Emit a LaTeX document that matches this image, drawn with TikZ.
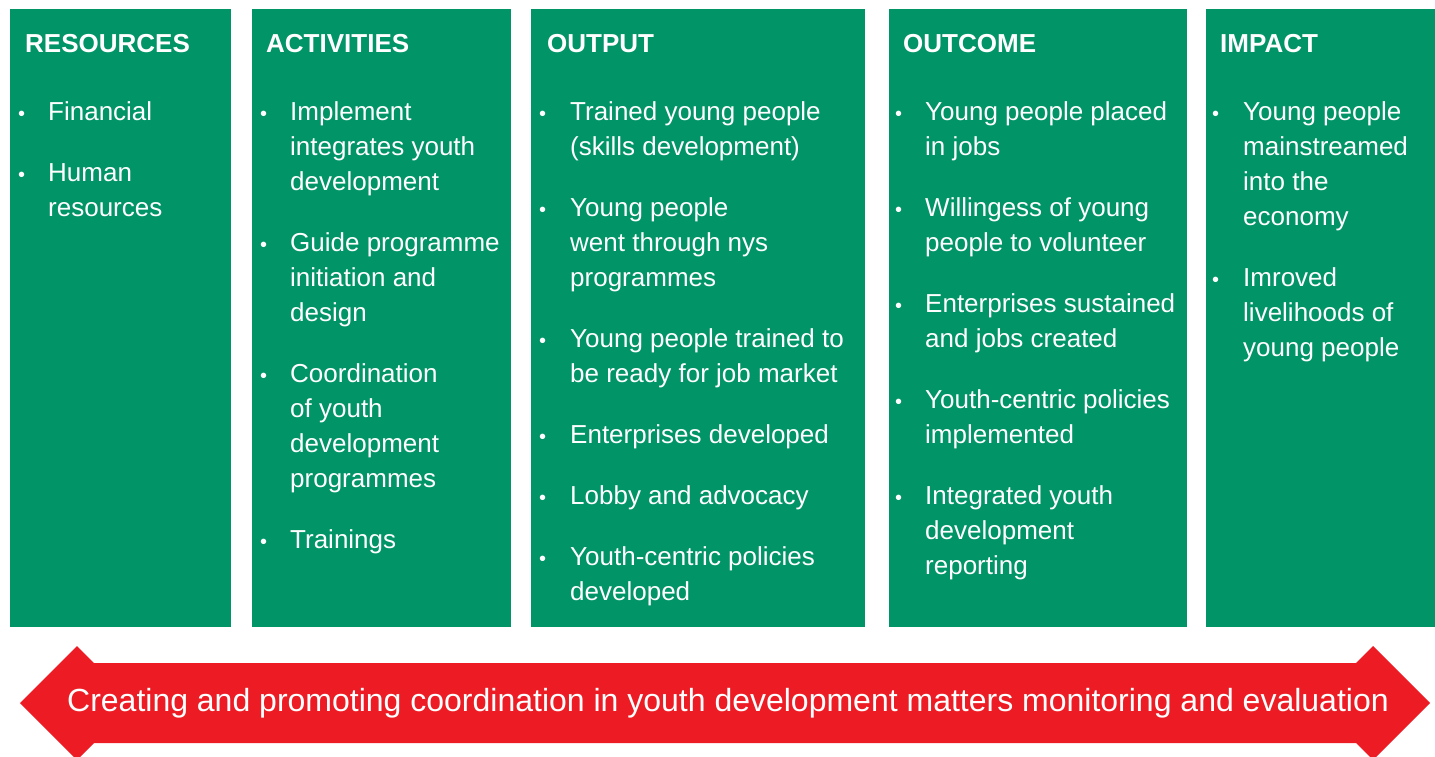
\documentclass[tikz,border=0pt]{standalone}
\usepackage{fontspec}
\setmainfont{Liberation Sans}
\definecolor{tocgreen}{RGB}{0,148,103}
\definecolor{tocred}{RGB}{237,28,36}
\newcommand{\bitem}[5]{%
  \node[bul] (#1b) at (#2,#4) {\textbullet};
  \node[itm] (#1) at (#3,#4) {\begin{tabular}[t]{@{}l@{}}#5\end{tabular}};
}
\begin{document}
\begin{tikzpicture}[x=1pt,y=-1pt,
  colbox/.style={fill=tocgreen, draw=none, anchor=north west, inner sep=0pt},
  head/.style={anchor=base west, inner sep=0pt, text=white, font=\fontsize{26}{35}\selectfont\bfseries},
  itm/.style={anchor=base west, inner sep=0pt, text=white, font=\fontsize{26}{35}\selectfont},
  bul/.style={anchor=base west, inner sep=0pt, text=white, font=\fontsize{20}{35}\selectfont},
  arrowtext/.style={anchor=base, inner sep=0pt, text=white, font=\fontsize{32}{35}\selectfont}]
\useasboundingbox (0,0) rectangle (1435,756);
% columns
\node[colbox, minimum width=221pt, minimum height=618pt] (res) at (10,9) {};
\node[colbox, minimum width=259pt, minimum height=618pt] (act) at (252,9) {};
\node[colbox, minimum width=334pt, minimum height=618pt] (out) at (531,9) {};
\node[colbox, minimum width=298pt, minimum height=618pt] (occ) at (889,9) {};
\node[colbox, minimum width=229pt, minimum height=618pt] (imp) at (1206,9) {};
% headings
\node[head] (hres) at (25,52) {RESOURCES};
\node[head] (hact) at (266,52) {ACTIVITIES};
\node[head] (hout) at (547,52) {OUTPUT};
\node[head] (hocc) at (903,52) {OUTCOME};
\node[head] (himp) at (1220,52) {IMPACT};
% resources
\bitem{r1}{18}{48}{120}{Financial}
\bitem{r2}{18}{48}{181}{Human\\resources}
% activities
\bitem{a1}{260}{290}{120}{Implement\\integrates youth\\development}
\bitem{a2}{260}{290}{251}{Guide programme\\initiation and\\design}
\bitem{a3}{260}{290}{382}{Coordination\\of youth\\development\\programmes}
\bitem{a4}{260}{290}{548}{Trainings}
% output
\bitem{o1}{539}{570}{120}{Trained young people\\(skills development)}
\bitem{o2}{539}{570}{216}{Young people\\went through nys\\programmes}
\bitem{o3}{539}{570}{347}{Young people trained to\\be ready for job market}
\bitem{o4}{539}{570}{443}{Enterprises developed}
\bitem{o5}{539}{570}{504}{Lobby and advocacy}
\bitem{o6}{539}{570}{565}{Youth-centric policies\\developed}
% outcome
\bitem{c1}{895}{925}{120}{Young people placed\\in jobs}
\bitem{c2}{895}{925}{216}{Willingess of young\\people to volunteer}
\bitem{c3}{895}{925}{312}{Enterprises sustained\\and jobs created}
\bitem{c4}{895}{925}{408}{Youth-centric policies\\implemented}
\bitem{c5}{895}{925}{504}{Integrated youth\\development\\reporting}
% impact
\bitem{i1}{1212}{1243}{120}{Young people\\mainstreamed\\into the\\economy}
\bitem{i2}{1212}{1243}{286}{Imroved\\livelihoods of\\young people}
% arrow
\fill[tocred] (20,703) -- (77,646) -- (94,663) -- (1356,663) -- (1373,646) -- (1430,703)
  -- (1373,760) -- (1356,743) -- (94,743) -- (77,760) -- cycle;
\node[arrowtext] (banner) at (728,711) {Creating and promoting coordination in youth development matters monitoring and evaluation};
\end{tikzpicture}
\end{document}
